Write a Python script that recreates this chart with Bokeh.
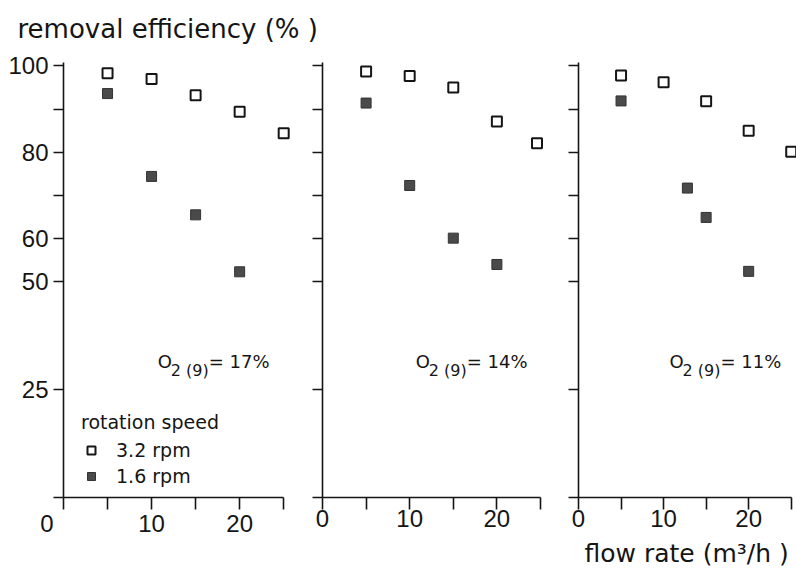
from bokeh.plotting import figure
from bokeh.layouts import row, column
from bokeh.models import (Range1d, FixedTicker, Label, Legend, LegendItem)
from bokeh.embed import file_html
from bokeh.resources import INLINE

# ---------------- data ----------------
y_ticks = [0, 25, 50, 60, 70, 80, 90, 100]
y_tick_labels = {0: "", 25: "25", 50: "50", 60: "60", 70: "", 80: "80", 90: "", 100: "100"}
x_ticks = [0, 5, 10, 15, 20, 25]
x_tick_labels = {0: "0", 5: "", 10: "10", 15: "", 20: "20", 25: ""}

# panel 1 : O2 = 17 %
p1_x_32 = [5, 10, 15, 20, 25]
p1_y_32 = [98.3, 97.0, 93.2, 89.4, 84.4]
p1_x_16 = [5, 10, 15, 20]
p1_y_16 = [93.6, 74.4, 65.5, 52.3]
# panel 2 : O2 = 14 %
p2_x_32 = [5, 10, 15, 20, 24.6]
p2_y_32 = [98.7, 97.7, 95.0, 87.1, 82.1]
p2_x_16 = [5, 10, 15, 20]
p2_y_16 = [91.4, 72.3, 60.1, 54.0]
# panel 3 : O2 = 11 %
p3_x_32 = [5, 10, 15, 20, 25]
p3_y_32 = [97.8, 96.2, 91.8, 85.0, 80.1]
p3_x_16 = [5, 12.8, 15, 20]
p3_y_16 = [91.9, 71.7, 64.9, 52.4]

o2_values = ["17%", "14%", "11%"]
series_labels = ["3.2 rpm", "1.6 rpm"]
legend_title = "rotation speed"
y_title = "removal efficiency (% )"
x_title = "flow rate (m\u00b3/h )"

TXT = "#151515"
NUM_FONT = "Liberation Sans"
TXT_FONT = "DejaVu Sans"
FILL = "#4a4a4a"
ROW_H = 496
LIFT = 7  # compensates the label baseline drop seen in rendering


def make_panel(width, left, x_end, xs32, ys32, xs16, ys16, o2, show_y_labels):
    p = figure(width=width, height=ROW_H, output_backend="svg", toolbar_location=None,
               x_range=Range1d(0, x_end), y_range=Range1d(0, 100.8),
               min_border_left=left, min_border_right=0, min_border_top=18,
               min_border_bottom=ROW_H - 18 - 435)
    p.outline_line_color = None
    p.grid.visible = False
    p.background_fill_color = "white"
    p.border_fill_color = "white"

    for ax in (p.xaxis[0], p.yaxis[0]):
        ax.axis_line_width = 1.6
        ax.axis_line_color = TXT
        ax.major_tick_line_width = 1.6
        ax.major_tick_line_color = TXT
        ax.major_tick_in = 0
        ax.minor_tick_in = 0
        ax.minor_tick_out = 0
        ax.major_label_text_font = NUM_FONT
        ax.major_label_text_color = TXT

    xa = p.xaxis[0]
    xa.ticker = FixedTicker(ticks=x_ticks)
    xa.major_label_overrides = dict(x_tick_labels)
    xa.major_tick_out = 12
    xa.major_label_standoff = 0
    xa.major_label_text_font_size = "24px"
    xa.bounds = (0, 25)

    ya = p.yaxis[0]
    ya.ticker = FixedTicker(ticks=y_ticks)
    ya.major_tick_out = 10
    ya.major_label_standoff = 5
    ya.major_label_text_font_size = "24px"
    if show_y_labels:
        ya.major_label_overrides = dict(y_tick_labels)
    else:
        ya.major_label_overrides = {t: "" for t in y_ticks}

    r32 = p.scatter(xs32, ys32, marker="square", size=10, line_width=2,
                    line_color=TXT, fill_color="white")
    r16 = p.scatter(xs16, ys16, marker="square", size=10, line_width=1,
                    line_color="#333333", fill_color=FILL)

    # O2(9) annotation
    ax_, ay_ = 10.7, 30.0
    p.add_layout(Label(x=ax_, y=ay_, y_offset=LIFT, text="O", text_font=TXT_FONT,
                       text_font_size="18px", text_color=TXT, text_baseline="alphabetic"))
    p.add_layout(Label(x=ax_, y=ay_, x_offset=13, y_offset=LIFT - 9, text="2 (9)",
                       text_font=TXT_FONT, text_font_size="16px", text_color=TXT,
                       text_baseline="alphabetic"))
    p.add_layout(Label(x=ax_, y=ay_, x_offset=51, y_offset=LIFT, text="= " + o2,
                       text_font=TXT_FONT, text_font_size="18px", text_color=TXT,
                       text_baseline="alphabetic"))
    return p, r32, r16


f1, r1a, r1b = make_panel(292, 63, 26.0, p1_x_32, p1_y_32, p1_x_16, p1_y_16, o2_values[0], True)
f2, _, _ = make_panel(258, 30, 26.15, p2_x_32, p2_y_32, p2_x_16, p2_y_16, o2_values[1], False)
f3, _, _ = make_panel(246, 28, 25.62, p3_x_32, p3_y_32, p3_x_16, p3_y_16, o2_values[2], False)

# panel 1: the "0" tick label sits left of the origin (padded with no-break spaces)
f1.xaxis[0].major_label_overrides = {**x_tick_labels, 0: "0" + "\u00a0" * 5}

# legend in panel 1
leg = Legend(items=[LegendItem(label=series_labels[0], renderers=[r1a]),
                    LegendItem(label=series_labels[1], renderers=[r1b])],
             title=legend_title, location=(18, 10))
leg.border_line_color = None
leg.background_fill_alpha = 0
leg.padding = 0
leg.margin = 0
leg.spacing = 4
leg.glyph_width = 20
leg.glyph_height = 20
leg.label_height = 20
leg.label_standoff = 15
leg.label_text_font = TXT_FONT
leg.label_text_font_size = "19px"
leg.label_text_color = TXT
leg.title_text_font = TXT_FONT
leg.title_text_font_size = "19px"
leg.title_text_font_style = "normal"
leg.title_text_color = TXT
leg.title_standoff = 6
f1.add_layout(leg)


def strip(h):
    s = figure(width=796, height=h, output_backend="svg", toolbar_location=None,
               x_range=Range1d(0, 796), y_range=Range1d(0, h), min_border=0,
               x_axis_type=None, y_axis_type=None)
    s.outline_line_color = None
    s.grid.visible = False
    return s


# y title strip across the top
top = strip(44)
top.add_layout(Label(x=17, y=9 + LIFT, text=y_title, text_font=TXT_FONT, text_font_size="26px",
                     text_color=TXT, text_baseline="alphabetic"))

# x title strip along the bottom
bot = strip(31)
bot.add_layout(Label(x=584, y=11 + LIFT, text=x_title, text_font=TXT_FONT, text_font_size="25px",
                     text_color=TXT, text_baseline="alphabetic"))

layout = column(top, row(f1, f2, f3), bot)

with open("out.html", "w") as fh:
    fh.write(file_html(layout, INLINE))
